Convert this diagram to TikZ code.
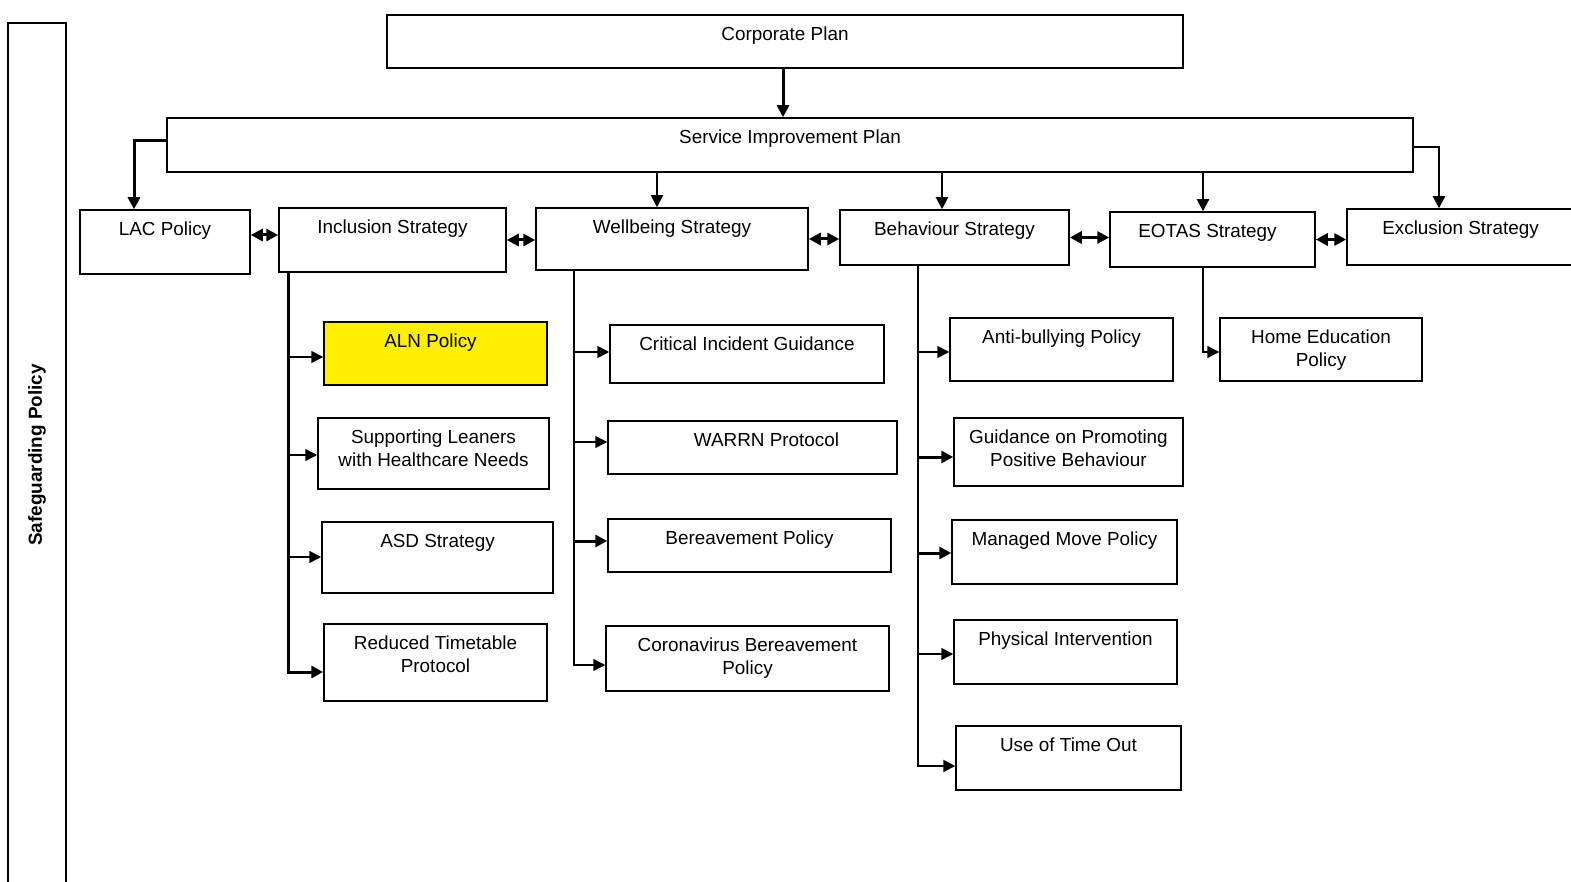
\documentclass[tikz,border=0pt]{standalone}
\usepackage{fontspec}
\setmainfont{Liberation Sans}
\usepackage{xcolor}
\usetikzlibrary{arrows.meta}
\definecolor{PolicyYellow}{HTML}{FFEF00}

\begin{document}
\begin{tikzpicture}[x=1pt,y=-1pt,
    pbox/.style 2 args={draw,line width=1.5pt,minimum width=#1pt,minimum height=#2pt,inner sep=0pt},
    ptext/.style={anchor=north,yshift=-12.5pt,inner sep=0pt,align=center,font=\fontsize{18.9}{22.5}\selectfont},
    link/.style={line width=1.5pt,-{Triangle[length=12pt,width=12pt]}},
    heavylink/.style={link,line width=3pt},
    bothlink/.style={line width=3pt,{Triangle[length=12pt,width=12pt]}-{Triangle[length=12pt,width=12pt]}}]
    \useasboundingbox (0,0) rectangle (1571,882);
    \node[pbox={864}{58},rotate=90,font=\bfseries\fontsize{18.9}{22.5}\selectfont] (safe) at (37,455) {Safeguarding Policy};
    \foreach \name/\x/\y/\w/\h/\dx/\txt in {
        corp/785/41.5/796/53/0/Corporate Plan,
        sip/790/145/1246/54/0/Service Improvement Plan,
        lac/165/242/170/64/0/LAC Policy,
        incl/392.5/240/227/64/0/Inclusion Strategy,
        well/672/239/272/62/0/Wellbeing Strategy,
        behav/954.5/237.5/229/55/0/Behaviour Strategy,
        eotas/1212.5/239.5/205/55/-5/EOTAS Strategy,
        excl/1460.5/237/227/56/0/Exclusion Strategy,
        health/433.5/453.5/231/71/0/Supporting Leaners\\with Healthcare Needs,
        asd/437.5/557.5/231/71/0/ASD Strategy,
        reduced/435.5/662.5/223/77/0/Reduced Timetable\\Protocol,
        cig/747/354/274/58/0/Critical Incident Guidance,
        warrn/752.5/447.5/289/53/14/WARRN Protocol,
        bereav/749.5/545.5/283/53/0/Bereavement Policy,
        corona/747.5/658.5/283/65/0/Coronavirus Bereavement\\Policy,
        anti/1061.5/349.5/223/63/0/Anti-bullying Policy,
        guide/1068.5/452/229/68/0/Guidance on Promoting\\Positive Behaviour,
        managed/1064.5/552/225/64/0/Managed Move Policy,
        phys/1065.5/652/223/64/0/Physical Intervention,
        timeout/1068.5/758/225/64/0/Use of Time Out,
        home/1321/349.5/202/63/0/Home Education\\Policy}
        \node[pbox={\w}{\h},label={[ptext,xshift=\dx pt]north:\txt}] (\name) at (\x,\y) {};
    \node[pbox={223}{63},fill=PolicyYellow,label={[ptext,xshift=-5pt]north:ALN Policy}] (aln) at (435.5,353.5) {};

    \coordinate (lacin) at ([xshift=-31pt]lac.north);
    \coordinate (wellin) at ([xshift=-15pt]well.north);
    \coordinate (behavin) at ([xshift=-12.5pt]behav.north);
    \coordinate (eotasin) at ([xshift=-9.5pt]eotas.north);
    \coordinate (exclin) at ([xshift=-21.5pt]excl.north);
    \draw[heavylink] ([xshift=-2pt]corp.south) -- ([xshift=-7pt]sip.north);
    \draw[heavylink] ([yshift=4pt]sip.west) -| (lacin);
    \foreach \target in {wellin,behavin,eotasin}
        \draw[link,line width=2pt] (sip.south -| \target) -- (\target);
    \draw[link,line width=2.2pt] ([yshift=-2pt]sip.east) -| (exclin);

    \coordinate (lacside) at ([yshift=7pt]lac.east);
    \draw[bothlink] (lacside) -- (lacside -| incl.west);
    \foreach \a/\b in {incl/well,well/behav,behav/eotas,eotas/excl}
        \draw[bothlink] (\a.east) -- (\a.east -| \b.west);

    \coordinate (incltrunk) at ([xshift=-104.5pt]incl.south);
    \coordinate (welltrunk) at ([xshift=-98pt]well.south);
    \coordinate (behavtrunk) at ([xshift=-36.5pt]behav.south);
    \draw[heavylink] (incltrunk) |- ([yshift=-9.5pt]reduced.west);
    \draw[link] (welltrunk) |- ([yshift=-6.5pt]corona.west);
    \draw[link,line width=2pt] (behavtrunk) |- ([yshift=-8pt]timeout.west);
    \foreach \trunk/\name/\dy/\kind in {
        incltrunk/aln/-3.5/link, incltrunk/health/-1.5/link, incltrunk/asd/0.5/link,
        welltrunk/cig/2/link, welltrunk/warrn/5.5/link, welltrunk/bereav/4.5/heavylink,
        behavtrunk/anti/-2.5/link, behavtrunk/guide/-5/heavylink,
        behavtrunk/managed/-1/heavylink, behavtrunk/phys/-2/link} {
        \coordinate (tip) at ([yshift=\dy pt]\name.west);
        \draw[\kind] (\trunk |- tip) -- (tip);
    }

    \coordinate (eotashook) at ([xshift=4.5pt]eotas.south);
    \coordinate (eotasdrop) at ([xshift=-9.5pt]eotas.south);
    \draw[link] (eotashook) -- (eotasdrop) |- ([yshift=-2.5pt]home.west);
\end{tikzpicture}
\end{document}
